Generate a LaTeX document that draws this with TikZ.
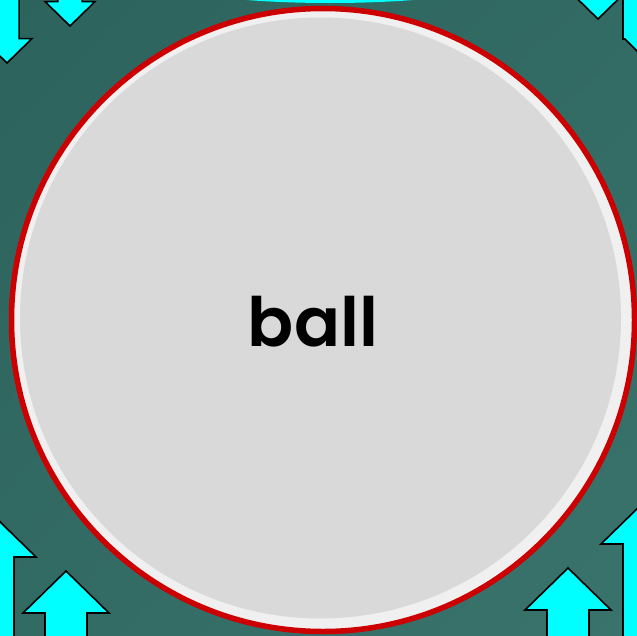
\documentclass[tikz,border=0pt]{standalone}
\usepackage{fontspec}
\usetikzlibrary{shadings}
\newfontfamily\ballfont{Poppins SemiBold}
\definecolor{tealA}{RGB}{45,99,93}
\definecolor{tealM}{RGB}{50,106,100}
\definecolor{tealB}{RGB}{58,115,108}
\definecolor{arrowcyan}{RGB}{0,255,255}
\definecolor{ballred}{RGB}{204,0,0}
\definecolor{ballrim}{RGB}{240,240,240}
\definecolor{ballgray}{RGB}{217,217,217}
\tikzset{
  arrowbody/.style={fill=arrowcyan,draw=black,line width=1.6pt,line join=miter},
  pics/uparr/.style={code={
    \draw[arrowbody] (0,0) -- (-43,42) -- (-21,42) -- (-21,260) -- (21,260) -- (21,42) -- (43,42) -- cycle;}}
}
\begin{document}
\begin{tikzpicture}[x=1pt,y=-1pt]
        \useasboundingbox (0,0) rectangle (637,635);
        \clip (0,0) rectangle (637,635);
        \shade[upper left=tealA,upper right=tealM,lower left=tealM,lower right=tealB] (0,0) rectangle (637,635);
        \fill[arrowcyan] (330,-30) ellipse [x radius=200,y radius=33];
        \pic[rotate=180,scale=.58] at (7,63) {uparr};
        \pic[rotate=180,scale=.58] at (70,26) {uparr};
        \pic[rotate=180,scale=.58] at (598,19) {uparr};
        \draw[arrowbody] (623,-20) -- (623,39) -- (625,39) -- (680,94) -- (700,-20) -- cycle;
        \pic at (-7,515) {uparr};
        \pic at (66,571) {uparr};
        \pic at (568,568) {uparr};
        \pic at (644,502) {uparr};
        \filldraw[fill=ballrim,draw=ballred,line width=5.5pt] (323,320) circle [radius=311.5];
        \fill[ballgray] (320.5,318) circle [radius=300.5];
        \node[font=\ballfont\fontsize{68}{68}\selectfont,inner sep=0pt] (ball) at (313,322) {ball};
      \end{tikzpicture}
\end{document}
